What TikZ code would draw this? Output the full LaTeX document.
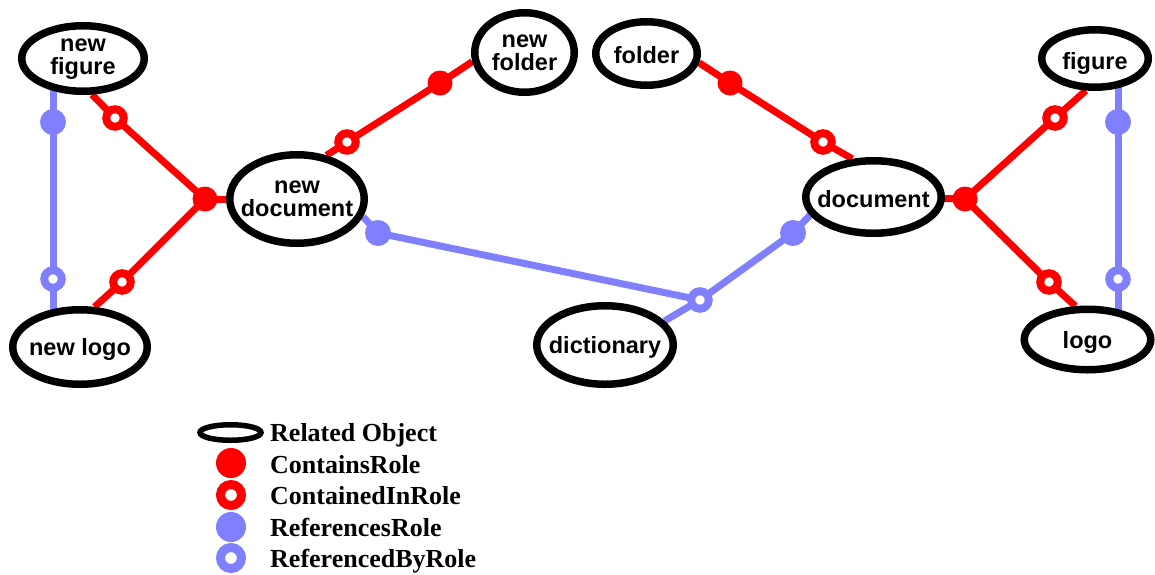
\documentclass[tikz,border=0pt]{standalone}
\usepackage{fontspec}
\setmainfont{Liberation Serif}
\newfontfamily\nodefont{Liberation Sans}
\usetikzlibrary{shapes.geometric,backgrounds}
\definecolor{refblue}{RGB}{128,128,255}
\definecolor{conred}{RGB}{255,0,0}
\tikzset{
  obj/.style={ellipse, draw=black, line width=7.5pt, fill=white, inner sep=0pt},
  objtext/.style={font=\nodefont\bfseries\fontsize{23.5}{23}\selectfont, align=center, inner sep=0pt},
  objline/.style={objtext, anchor=base},
  contains/.style={circle, fill=conred, minimum size=25pt, inner sep=0pt},
  containedin/.style={circle, draw=conred, fill=white, line width=8pt, minimum size=17.5pt, inner sep=0pt},
  references/.style={circle, fill=refblue, minimum size=26pt, inner sep=0pt},
  referencedby/.style={circle, draw=refblue, fill=white, line width=8pt, minimum size=17.5pt, inner sep=0pt},
  redline/.style={draw=conred, line width=7pt},
  blueline/.style={draw=refblue, line width=7pt},
  legtext/.style={font=\bfseries\fontsize{26}{26}\selectfont, anchor=base west, inner sep=0pt},
  legcontains/.style={circle, fill=conred, minimum size=30pt, inner sep=0pt},
  legcontainedin/.style={circle, draw=conred, fill=white, line width=9pt, minimum size=21pt, inner sep=0pt},
  legreferences/.style={circle, fill=refblue, minimum size=30pt, inner sep=0pt},
  legreferencedby/.style={circle, draw=refblue, fill=white, line width=9pt, minimum size=21pt, inner sep=0pt},
}
\begin{document}
\begin{tikzpicture}[x=1pt,y=-1pt]
\useasboundingbox (0,0) rectangle (1155,574);

% related objects
\node[obj, minimum width=122.5pt, minimum height=65.5pt] (nfig) at (83,58.5) {};
\node[objtext] (nfig-t) at ([yshift=-1pt]nfig.center) {new\\figure};
\node[obj, minimum width=134.5pt, minimum height=74.5pt] (nlogo) at (80,347) {};
\node[objline] (nlogo-t) at ([yshift=-8pt]nlogo.center) {new logo};
\node[obj, minimum width=134.5pt, minimum height=88.5pt] (ndoc) at (297,199) {};
\node[objtext] (ndoc-t) at (ndoc) {new\\document};
\node[obj, minimum width=99.5pt, minimum height=79.5pt] (nfold) at (524.5,52.5) {};
\node[objtext] (nfold-t) at (nfold) {new\\folder};
\node[obj, minimum width=101.5pt, minimum height=63.5pt] (fold) at (646.5,53.5) {};
\node[objline] (fold-t) at ([yshift=-9.8pt]fold.center) {folder};
\node[obj, minimum width=135.5pt, minimum height=72.5pt] (doc) at (873.5,197) {};
\node[objline] (doc-t) at ([yshift=-10.3pt]doc.center) {document};
\node[obj, minimum width=106.5pt, minimum height=57.5pt] (fig) at (1095,58.5) {};
\node[objline] (fig-t) at ([yshift=-10.5pt]fig.center) {figure};
\node[obj, minimum width=126.5pt, minimum height=60.5pt] (logo) at (1087.5,339.5) {};
\node[objline] (logo-t) at ([yshift=-8.5pt]logo.center) {logo};
\node[obj, minimum width=136.5pt, minimum height=78.5pt] (dict) at (605,345) {};
\node[objline] (dict-t) at ([yshift=-8.3pt]dict.center) {dictionary};

% ContainsRole
\node[contains] (j1) at (205,199) {};
\node[contains] (c2) at (440,83) {};
\node[contains] (c3) at (730,83) {};
\node[contains] (j2) at (965,199) {};
% ContainedInRole
\node[containedin] (ci1) at (115,118) {};
\node[containedin] (ci2) at (122,282) {};
\node[containedin] (ci3) at (347,142) {};
\node[containedin] (ci4) at (823,142) {};
\node[containedin] (ci5) at (1055,118) {};
\node[containedin] (ci6) at (1049,282) {};
% ReferencesRole
\node[references] (b1) at (53,122) {};
\node[references] (b2) at (378,233) {};
\node[references] (b3) at (793,233) {};
\node[references] (b4) at (1118,122) {};
% ReferencedByRole
\node[referencedby] (rb1) at (53,279) {};
\node[referencedby] (rb2) at (700,300) {};
\node[referencedby] (rb3) at (1118,279) {};

\begin{pgfonlayer}{background}
\draw[redline] (nfig.-76) -- (ci1.center) -- (j1.center);
\draw[redline] (j1.center) -- (ci2.center) -- (nlogo.70);
\draw[redline] (j1.center) -- (ndoc.center);
\draw[redline] (ndoc.56) -- (ci3.center) -- (c2.center) -- (nfold.-170);
\draw[redline] (fold.-10) -- (c3.center) -- (ci4.center) -- (doc.119);
\draw[redline] (doc.center) -- (j2.center);
\draw[redline] (j2.center) -- (ci5.center) -- (fig.-106);
\draw[redline] (j2.center) -- (ci6.center) -- (logo.110);
\draw[blueline] (b1 |- nfig.center) -- (b1.center) -- (rb1.center) -- (rb1 |- nlogo.center);
\draw[blueline] (ndoc.-15.5) -- (b2.center) -- (rb2.center) -- (dict.22);
\draw[blueline] (doc.-164) -- (b3.center) -- (rb2.center);
\draw[blueline] (b4 |- fig.center) -- (b4.center) -- (rb3.center) -- (rb3 |- logo.center);
\end{pgfonlayer}

% legend
\node[obj, line width=5.5pt, minimum width=61pt, minimum height=15.5pt] (leg0) at (230.5,432.5) {};
\node[legcontains] (leg1) at (231,463) {};
\node[legcontainedin] (leg2) at (231,495) {};
\node[legreferences] (leg3) at (231,527) {};
\node[legreferencedby] (leg4) at (231,558) {};
\node[legtext] (leg0-t) at (270,441.5) {Related Object};
\node[legtext] (leg1-t) at (270,473) {ContainsRole};
\node[legtext] (leg2-t) at (270,504.5) {ContainedInRole};
\node[legtext] (leg3-t) at (270,536) {ReferencesRole};
\node[legtext] (leg4-t) at (270,567.5) {ReferencedByRole};
\end{tikzpicture}
\end{document}
